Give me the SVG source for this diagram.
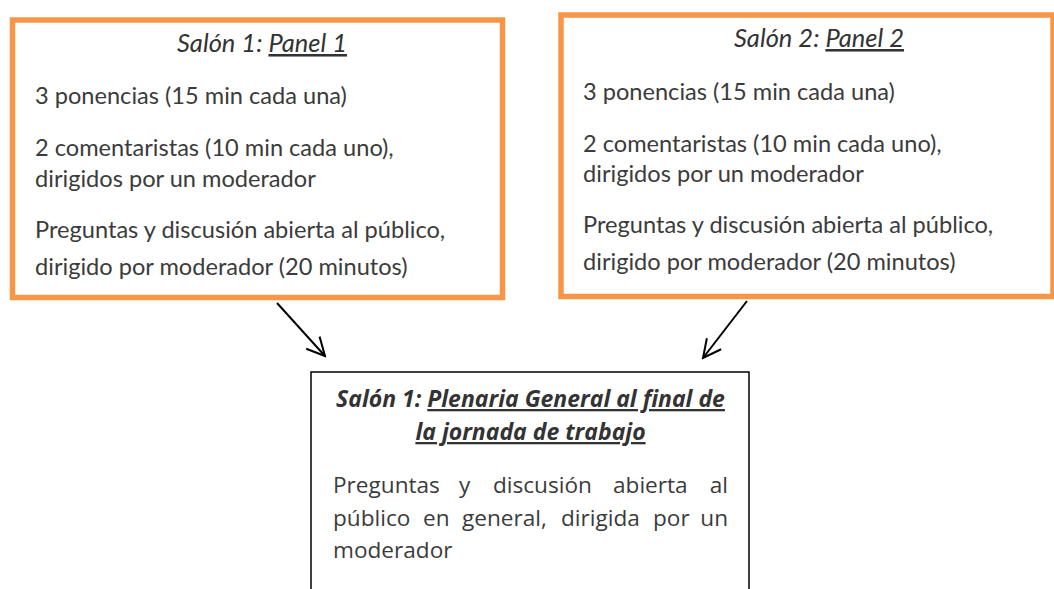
<svg xmlns="http://www.w3.org/2000/svg" width="1054" height="589" viewBox="0 0 1054 589">
<style>
.ob{fill:#fff;stroke:#f79646;stroke-width:5.5}
.bb{fill:#fff;stroke:#000;stroke-width:1.5}
.t{font-family:Lato,"Open Sans",sans-serif;font-size:23.6px;fill:#3b3b3b}
.h{font-family:Lato,"Open Sans",sans-serif;font-size:25.5px;font-style:italic;fill:#333}
.c{font-family:"Open Sans",sans-serif;font-size:22.6px;fill:#3b3b3b}
.ch{font-family:"Open Sans",sans-serif;font-size:23px;font-style:italic;font-weight:bold;fill:#333}
.u{text-decoration:underline}
.ln{stroke:#000;stroke-width:2;fill:none}
</style>
<defs>
<marker id="ah" viewBox="0 0 22 22" refX="20" refY="11" markerWidth="22" markerHeight="22" markerUnits="userSpaceOnUse" orient="auto">
<path d="M2,2 L20,11 L2,20" fill="none" stroke="#000" stroke-width="2"/>
</marker>
</defs>
<g id="panel1">
<rect class="ob" x="12.5" y="20" width="490" height="277.5"/>
<text class="h" x="262" y="52" text-anchor="middle">Salón 1: <tspan class="u">Panel 1</tspan></text>
<text class="t" x="35" y="104">3 ponencias (15 min cada una)</text>
<text class="t" x="35" y="156">2 comentaristas (10 min cada uno),</text>
<text class="t" x="35" y="187">dirigidos por un moderador</text>
<text class="t" x="35" y="238">Preguntas y discusión abierta al público,</text>
<text class="t" x="35" y="275">dirigido por moderador (20 minutos)</text>
</g>
<g id="panel2">
<rect class="ob" x="561" y="15" width="492" height="281.5"/>
<text class="h" x="819" y="47" text-anchor="middle">Salón 2: <tspan class="u">Panel 2</tspan></text>
<text class="t" x="583" y="100">3 ponencias (15 min cada una)</text>
<text class="t" x="583" y="152">2 comentaristas (10 min cada uno),</text>
<text class="t" x="583" y="182">dirigidos por un moderador</text>
<text class="t" x="583" y="233">Preguntas y discusión abierta al público,</text>
<text class="t" x="583" y="270">dirigido por moderador (20 minutos)</text>
</g>
<g id="plenaria">
<rect class="bb" x="311" y="372" width="438" height="230"/>
<text class="ch" x="530.5" y="407" text-anchor="middle">Salón 1: <tspan class="u">Plenaria General al final de</tspan></text>
<text class="ch u" x="530.5" y="440" text-anchor="middle">la jornada de trabajo</text>
<text class="c" y="493"><tspan x="333">Preguntas</tspan><tspan x="459">y</tspan><tspan x="493">discusión</tspan><tspan x="613">abierta</tspan><tspan x="728" text-anchor="end">al</tspan></text>
<text class="c" y="526"><tspan x="333">público</tspan><tspan x="423">en</tspan><tspan x="462">general,</tspan><tspan x="561">dirigida</tspan><tspan x="653">por</tspan><tspan x="728" text-anchor="end">un</tspan></text>
<text class="c" x="333" y="558">moderador</text>
</g>
<g id="connectors">
<line class="ln" x1="277" y1="303" x2="325" y2="356" marker-end="url(#ah)"/>
<line class="ln" x1="747" y1="301" x2="703" y2="358" marker-end="url(#ah)"/>
</g>
</svg>
